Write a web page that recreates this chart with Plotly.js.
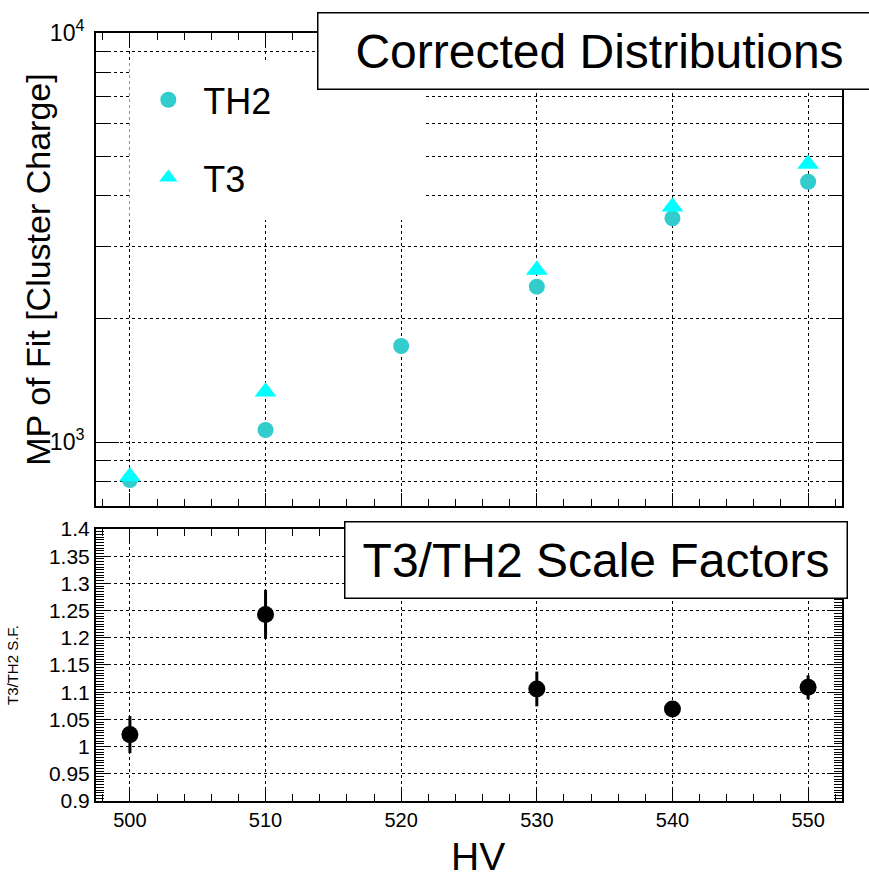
<!DOCTYPE html>
<html>
<head>
<meta charset="utf-8">
<script src="https://cdn.plot.ly/plotly-3.0.1.min.js"></script>
<style>html,body{margin:0;padding:0;background:#fff;}#chart{width:869px;height:879px;}</style>
</head>
<body>
<div id="chart"></div>
<script>
// ---- data ----
const hv = [500, 510, 520, 530, 540, 550];
const th2 = [807, 1070, 1717, 2398, 3524, 4329];
const hvT3 = [500, 510, 530, 540, 550];
const t3 = [823, 1327, 2634, 3760, 4780];
const hvSF = [500, 510, 530, 540, 550];
const sf = [1.022, 1.243, 1.106, 1.069, 1.109];
const sfErr = [0.034, 0.045, 0.032, 0.008, 0.022];

const topMinorTicks = [800, 900, 1000, 2000, 3000, 4000, 5000, 6000, 7000, 8000, 9000];
const topMajorTicks = [1000, 10000];
const topMajorLabels = ['10<sup>3</sup>', '10<sup>4</sup>'];
const sfTicks = [0.9, 0.95, 1, 1.05, 1.1, 1.15, 1.2, 1.25, 1.3, 1.35, 1.4];
const sfLabels = ['0.9', '0.95', '1', '1.05', '1.1', '1.15', '1.2', '1.25', '1.3', '1.35', '1.4'];

const FONT = 'Liberation Sans, Arial, sans-serif';

const traces = [
  {x: hv, y: th2, xaxis: 'x2', yaxis: 'y', type: 'scatter', mode: 'markers', name: 'TH2',
   legendgroup: 'a', marker: {symbol: 'circle', size: 16, color: '#33cccc'}},
  {x: hvT3, y: t3, xaxis: 'x2', yaxis: 'y3', type: 'scatter', mode: 'markers', name: 'T3',
   legendgroup: 'b', marker: {symbol: 'triangle-up', size: 19, color: '#00ffff'}},
  {x: hvSF, y: sf, xaxis: 'x', yaxis: 'y2', type: 'scatter', mode: 'markers', showlegend: false,
   marker: {symbol: 'circle', size: 17, color: '#000'},
   error_y: {type: 'data', array: sfErr, visible: true, color: '#000', thickness: 3, width: 0}}
];

const xCommon = {
  range: [497.5, 552.5], tick0: 500, dtick: 10, ticks: 'inside', ticklen: 13, tickwidth: 1, tickcolor: '#000',
  minor: {dtick: 2, ticklen: 7, ticks: 'inside', tickcolor: '#000', showgrid: false},
  showgrid: true, griddash: 'dot', gridcolor: '#000', gridwidth: 1,
  showline: true, linewidth: 2, linecolor: '#000', mirror: 'ticks', zeroline: false
};

const layout = {
  width: 869, height: 879,
  margin: {l: 96, r: 27, t: 33, b: 78, pad: 0},
  paper_bgcolor: '#fff', plot_bgcolor: '#fff',
  font: {family: FONT, color: '#000'},
  showlegend: true,
  legend: {x: 0.05, y: 0.952, xanchor: 'left', yanchor: 'top', bgcolor: 'rgba(0,0,0,0)',
           font: {family: FONT, size: 36, color: '#000'}, tracegroupgap: 28, itemsizing: 'trace', itemwidth: 60},
  xaxis: Object.assign({}, xCommon, {anchor: 'y2', domain: [0, 1],
    tickfont: {family: FONT, size: 20, color: '#000'}}),
  xaxis2: Object.assign({}, xCommon, {anchor: 'y', domain: [0, 1], matches: 'x', showticklabels: false}),
  yaxis: {
    domain: [0.3841, 1], anchor: 'x2', type: 'log', range: [2.8435, 4],
    tickmode: 'array', tickvals: topMinorTicks, showticklabels: false,
    ticks: 'inside', ticklen: 13, tickwidth: 1, tickcolor: '#000',
    showgrid: true, griddash: 'dot', gridcolor: '#000', gridwidth: 1,
    showline: true, linewidth: 2, linecolor: '#000', mirror: 'ticks', zeroline: false,
    title: {text: 'MP of Fit [Cluster Charge]', font: {family: FONT, size: 34, color: '#000'}, standoff: 33}
  },
  yaxis3: {
    overlaying: 'y', anchor: 'x2', side: 'left', type: 'log', range: [2.8435, 4],
    tickmode: 'array', tickvals: topMajorTicks, ticktext: topMajorLabels,
    tickfont: {family: FONT, size: 23, color: '#000'}, ticklabelstandoff: 5,
    ticks: 'inside', ticklen: 23, tickwidth: 1, tickcolor: '#000',
    showgrid: false, showline: true, linewidth: 2, linecolor: '#000', mirror: 'ticks', zeroline: false
  },
  yaxis2: {
    domain: [0, 0.3542], anchor: 'x', range: [0.9, 1.4],
    tickmode: 'array', tickvals: sfTicks, ticktext: sfLabels,
    tickfont: {family: FONT, size: 21, color: '#000'},
    ticks: 'inside', ticklen: 15, tickwidth: 1, tickcolor: '#000',
    minor: {dtick: 0.005, tick0: 0.9, ticklen: 8, ticks: 'inside', tickcolor: '#000', showgrid: false},
    showgrid: true, griddash: 'dot', gridcolor: '#000', gridwidth: 1,
    showline: true, linewidth: 2, linecolor: '#000', mirror: 'ticks', zeroline: false,
    title: {text: 'T3/TH2 S.F.', font: {family: FONT, size: 15, color: '#000'}, standoff: 27}
  },
  shapes: [
    // white legend pad hiding the grid behind the legend
    {type: 'rect', xref: 'paper', yref: 'paper', x0: 0.0448, x1: 0.4383, y0: 0.7565, y1: 0.9622,
     fillcolor: '#fff', line: {width: 0}, layer: 'above'}
  ],
  annotations: [
    {text: 'HV', xref: 'paper', yref: 'paper', x: 0.512, y: -0.072, xanchor: 'center', yanchor: 'middle',
     showarrow: false, font: {family: FONT, size: 39, color: '#000'}},
    {text: 'Corrected Distributions', xref: 'paper', yref: 'paper', x: 0.2962, y: 1.0277,
     xanchor: 'left', yanchor: 'top', showarrow: false, width: 562, height: 75, align: 'center', valign: 'middle',
     bgcolor: '#fff', bordercolor: '#000', borderwidth: 1.5, borderpad: 0,
     font: {family: FONT, size: 48, color: '#000'}},
    {text: 'T3/TH2 Scale Factors', xref: 'paper', yref: 'paper', x: 0.3328, y: 0.365,
     xanchor: 'left', yanchor: 'top', showarrow: false, width: 501, height: 75, align: 'center', valign: 'middle',
     bgcolor: '#fff', bordercolor: '#000', borderwidth: 1.5, borderpad: 0,
     font: {family: FONT, size: 48, color: '#000'}}
  ]
};

Plotly.newPlot('chart', traces, layout, {displayModeBar: false, staticPlot: true});
</script>
</body>
</html>
